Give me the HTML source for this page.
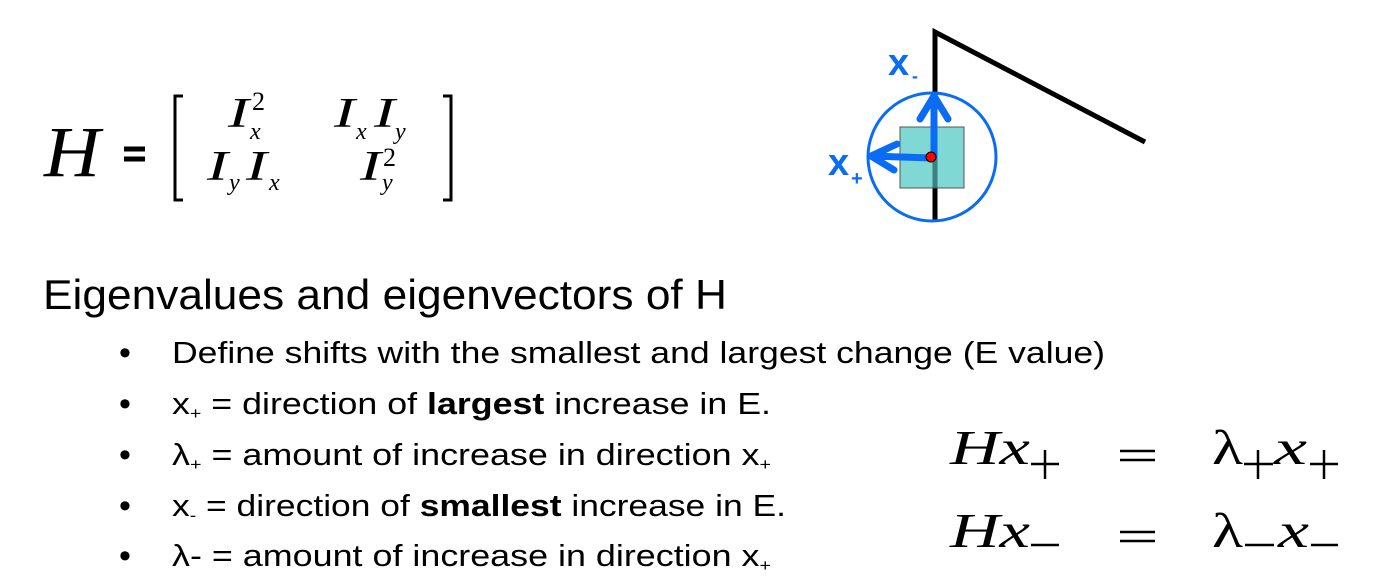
<!DOCTYPE html>
<html><head><meta charset="utf-8"><style>
html,body{margin:0;padding:0;background:#fff;width:1379px;height:583px;overflow:hidden}
svg{display:block}
.s{font-family:"Liberation Sans",sans-serif;fill:#000}
.m{font-family:"Liberation Serif",serif;font-style:italic;fill:#000}
.r{font-family:"Liberation Serif",serif;fill:#000}
.b{fill:#0a6cf5}
</style></head><body>
<svg width="1379" height="583" viewBox="0 0 1379 583">
<g>
 <text class="m" x="44" y="176" font-size="72" textLength="56" lengthAdjust="spacingAndGlyphs">H</text>
 <g stroke="#000" stroke-width="5">
  <line x1="124" y1="149" x2="145" y2="149"/><line x1="124" y1="159" x2="145" y2="159"/>
 </g>
 <path d="M183 96 H175 V200 H183" fill="none" stroke="#000" stroke-width="3"/>
 <path d="M443 96 H451 V200 H443" fill="none" stroke="#000" stroke-width="3"/>
 <g>
  <text class="m" x="228" y="127" font-size="42" textLength="21" lengthAdjust="spacingAndGlyphs">I</text>
  <text class="m" x="250" y="139" font-size="24">x</text>
  <text class="r" x="252" y="110" font-size="26">2</text>
 </g>
 <g>
  <text class="m" x="334" y="127" font-size="42" textLength="21" lengthAdjust="spacingAndGlyphs">I</text>
  <text class="m" x="356" y="139" font-size="24">x</text>
  <text class="m" x="374" y="127" font-size="42" textLength="21" lengthAdjust="spacingAndGlyphs">I</text>
  <text class="m" x="395" y="139" font-size="24">y</text>
 </g>
 <g>
  <text class="m" x="207" y="180" font-size="42" textLength="21" lengthAdjust="spacingAndGlyphs">I</text>
  <text class="m" x="229" y="190" font-size="24">y</text>
  <text class="m" x="246" y="180" font-size="42" textLength="21" lengthAdjust="spacingAndGlyphs">I</text>
  <text class="m" x="269" y="190" font-size="24">x</text>
 </g>
 <g>
  <text class="m" x="360" y="180" font-size="42" textLength="21" lengthAdjust="spacingAndGlyphs">I</text>
  <text class="m" x="382" y="190" font-size="24">y</text>
  <text class="r" x="383" y="166" font-size="26">2</text>
 </g>
</g>
<g>
 <path d="M935 220 V32 L1145 142" fill="none" stroke="#000" stroke-width="5"/>
 <rect x="900" y="127" width="64" height="61" fill="#7fd8d4" stroke="#555" stroke-width="1"/>
 <line x1="935" y1="127" x2="935" y2="188" stroke="#0b4a48" stroke-width="5" opacity="0.6"/>
 <circle cx="932" cy="157" r="64" fill="none" stroke="#0a6cf5" stroke-width="3"/>
 <g stroke="#0a6cf5" stroke-width="7" stroke-linecap="round" stroke-linejoin="round" fill="none">
  <path d="M934 157 V96 M920 119 L934 96 L948 119"/>
  <path d="M932 158 L871 156 M897 144 L871 156 L894 170"/>
 </g>
 <circle cx="931" cy="157" r="5" fill="#f00" stroke="#000" stroke-width="1"/>
 <text class="s b" x="888" y="75" font-size="38" font-weight="bold">x</text>
 <text class="s b" x="912" y="82" font-size="18" font-weight="bold">-</text>
 <text class="s b" x="828" y="175" font-size="38" font-weight="bold">x</text>
 <text class="s b" x="851" y="185" font-size="20" font-weight="bold">+</text>
</g>
<text class="s" x="43" y="309" font-size="42" textLength="684" lengthAdjust="spacingAndGlyphs">Eigenvalues and eigenvectors of H</text>
<g font-size="31">
 <g class="s" font-size="34">
  <text class="s" x="119" y="364">•</text><text class="s" x="119" y="415">•</text><text class="s" x="119" y="466">•</text><text class="s" x="119" y="517">•</text><text class="s" x="119" y="567">•</text>
 </g>
 <text class="s" x="172" y="363" textLength="933" lengthAdjust="spacingAndGlyphs">Define shifts with the smallest and largest change (E value)</text>
 <text class="s" x="172" y="414" textLength="599" lengthAdjust="spacingAndGlyphs">x<tspan font-size="17" dy="5">+</tspan><tspan dy="-5"> = direction of </tspan><tspan font-weight="bold">largest</tspan> increase in E.</text>
 <text class="s" x="172" y="465" textLength="599" lengthAdjust="spacingAndGlyphs">λ<tspan font-size="17" dy="5">+</tspan><tspan dy="-5"> = amount of increase in direction x</tspan><tspan font-size="17" dy="5">+</tspan></text>
 <text class="s" x="172" y="516" textLength="614" lengthAdjust="spacingAndGlyphs">x<tspan font-size="17" dy="5">-</tspan><tspan dy="-5"> = direction of </tspan><tspan font-weight="bold">smallest</tspan> increase in E.</text>
 <text class="s" x="172" y="566" textLength="599" lengthAdjust="spacingAndGlyphs">λ- = amount of increase in direction x<tspan font-size="17" dy="5">+</tspan></text>
</g>
<g>
 <g>
  <text class="m" x="950" y="464" font-size="49" textLength="80" lengthAdjust="spacingAndGlyphs">Hx</text>
  <g stroke="#000" stroke-width="2.5">
   <line x1="1031" y1="464" x2="1059" y2="464"/><line x1="1045" y1="450" x2="1045" y2="479"/>
   <line x1="1120" y1="451" x2="1155" y2="451"/><line x1="1120" y1="460" x2="1155" y2="460"/>
   <line x1="1244" y1="464" x2="1273" y2="464"/><line x1="1258" y1="450" x2="1258" y2="479"/>
   <line x1="1310" y1="464" x2="1338" y2="464"/><line x1="1324" y1="450" x2="1324" y2="479"/>
  </g>
  <text class="r" x="1212" y="464" font-size="49" textLength="31" lengthAdjust="spacingAndGlyphs">λ</text>
  <text class="m" x="1274" y="464" font-size="49" textLength="33" lengthAdjust="spacingAndGlyphs">x</text>
 </g>
 <g>
  <text class="m" x="950" y="547" font-size="49" textLength="80" lengthAdjust="spacingAndGlyphs">Hx</text>
  <g stroke="#000" stroke-width="2.5">
   <line x1="1031" y1="545" x2="1059" y2="545"/>
   <line x1="1120" y1="532" x2="1155" y2="532"/><line x1="1120" y1="541" x2="1155" y2="541"/>
   <line x1="1245" y1="545" x2="1274" y2="545"/>
   <line x1="1311" y1="545" x2="1338" y2="545"/>
  </g>
  <text class="r" x="1212" y="547" font-size="49" textLength="31" lengthAdjust="spacingAndGlyphs">λ</text>
  <text class="m" x="1278" y="547" font-size="49" textLength="31" lengthAdjust="spacingAndGlyphs">x</text>
 </g>
</g>
</svg>
</body></html>
